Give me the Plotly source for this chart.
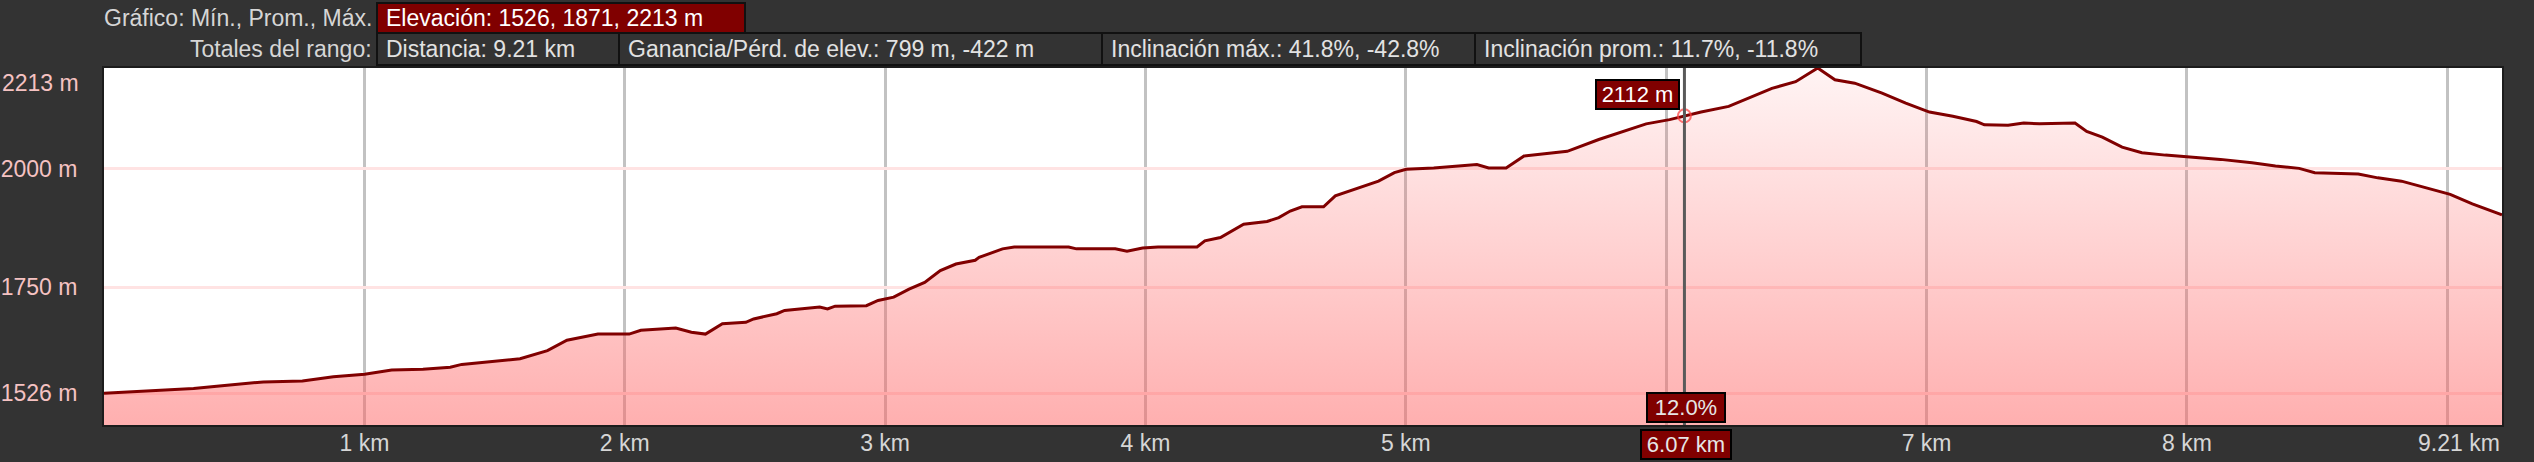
import plotly.graph_objects as go

# ---------------- data ----------------
km = [0.000, 0.105, 0.224, 0.344, 0.433, 0.538, 0.612, 0.762, 0.881, 1.001,
      1.105, 1.225, 1.330, 1.374, 1.509, 1.598, 1.703, 1.778, 1.897, 2.017,
      2.062, 2.196, 2.256, 2.310, 2.375, 2.465, 2.495, 2.584, 2.614, 2.674,
      2.749, 2.779, 2.808, 2.928, 2.973, 3.033, 3.092, 3.152, 3.212, 3.272,
      3.346, 3.361, 3.451, 3.496, 3.705, 3.735, 3.884, 3.929, 3.989, 4.048,
      4.198, 4.228, 4.288, 4.377, 4.467, 4.512, 4.556, 4.601, 4.684, 4.729,
      4.805, 4.895, 4.956, 5.001, 5.107, 5.197, 5.273, 5.318, 5.385, 5.454,
      5.530, 5.620, 5.741, 5.832, 5.923, 6.013, 6.070, 6.134, 6.240, 6.346,
      6.406, 6.497, 6.551, 6.582, 6.648, 6.724, 6.829, 6.920, 7.011, 7.101,
      7.192, 7.222, 7.313, 7.373, 7.434, 7.570, 7.615, 7.675, 7.751, 7.827,
      7.917, 8.008, 8.129, 8.250, 8.340, 8.431, 8.491, 8.658, 8.733, 8.824,
      8.914, 9.011, 9.096, 9.210]
elev = [1526, 1529, 1533, 1536, 1541, 1546, 1550, 1552, 1561, 1566,
        1575, 1577, 1581, 1587, 1594, 1599, 1616, 1638, 1651, 1651,
        1659, 1664, 1655, 1651, 1673, 1676, 1683, 1694, 1701, 1704,
        1708, 1704, 1710, 1711, 1722, 1729, 1746, 1760, 1785, 1799,
        1807, 1813, 1831, 1835, 1835, 1831, 1831, 1826, 1833, 1835,
        1835, 1848, 1855, 1883, 1889, 1897, 1911, 1920, 1920, 1943,
        1957, 1974, 1992, 1999, 2002, 2006, 2009, 2002, 2002, 2027,
        2032, 2037, 2062, 2079, 2095, 2104, 2112, 2120, 2132, 2156,
        2170, 2184, 2202, 2213, 2188, 2181, 2160, 2139, 2120, 2111,
        2100, 2093, 2092, 2097, 2095, 2097, 2079, 2067, 2046, 2034,
        2029, 2025, 2020, 2013, 2006, 2001, 1992, 1989, 1981, 1974,
        1960, 1946, 1926, 1903]

x_tick_vals = [1, 2, 3, 4, 5, 6, 7, 8, 9]
x_tick_text = ["1 km", "2 km", "3 km", "4 km", "5 km", "", "7 km", "8 km", ""]
y_tick_vals = [1526, 1750, 2000]
y_tick_text = ["1526 m", "1750 m", "2000 m"]

elev_min, elev_avg, elev_max = 1526, 1871, 2213
total_km = 9.21
gain, loss = 799, -422
grade_max = (41.8, -42.8)
grade_avg = (11.7, -11.8)
cursor_km = 6.07
cursor_elev = 2112
cursor_grade = 12.0

y_range = [1459, 2213]

# ---------------- layout helpers ----------------
W, H = 2534, 462
L, R, T, B = 104, 32, 68, 37
PW, PH = W - L - R, H - T - B
FONT = "Liberation Sans, Arial, sans-serif"
FS = 23
BG = "#333333"


def px(x):
    return (x - L) / PW


def py(y):
    return (H - B - y) / PH


fig = go.Figure()

fig.add_trace(go.Scatter(
    x=km, y=elev, mode="lines",
    line=dict(color="#800000", width=3),
    fill="tozeroy",
    fillgradient=dict(type="vertical",
                      colorscale=[[0, "rgba(255,96,96,0.50)"], [1, "rgba(255,96,96,0.07)"]],
                      start=y_range[0], stop=y_range[1]),
    hoverinfo="skip", showlegend=False,
))

fig.add_trace(go.Scatter(
    x=[cursor_km], y=[cursor_elev], mode="markers",
    marker=dict(symbol="circle-open", size=13, color="rgba(255,70,70,0.75)",
                line=dict(width=2, color="rgba(255,70,70,0.75)")),
    hoverinfo="skip", showlegend=False,
))

shapes = []
# cursor line
shapes.append(dict(type="line", xref="x", yref="paper", x0=cursor_km, x1=cursor_km,
                   y0=0, y1=1, line=dict(color="#5a5a5a", width=3), layer="above"))

# header boxes
shapes.append(dict(type="rect", xref="paper", yref="paper",
                   x0=px(377), x1=px(745), y0=py(33), y1=py(3),
                   fillcolor="#800000", line=dict(color="#111111", width=2)))
row2_edges = [377, 619, 1102, 1475, 1861]
for a, b in zip(row2_edges[:-1], row2_edges[1:]):
    shapes.append(dict(type="rect", xref="paper", yref="paper",
                       x0=px(a), x1=px(b), y0=py(65), y1=py(33),
                       fillcolor=BG, line=dict(color="#111111", width=2)))

annotations = []


def txt(text, x, y, anchor="left", color="#e2e2e2", size=FS):
    annotations.append(dict(text=text, xref="paper", yref="paper", x=px(x), y=py(y),
                            xanchor=anchor, yanchor="middle", showarrow=False,
                            font=dict(family=FONT, size=size, color=color)))


txt("Gráfico: Mín., Prom., Máx.", 374, 18, "right", "#d6d6d6")
txt(f"Elevación: {elev_min}, {elev_avg}, {elev_max} m", 384, 18, "left", "#ffffff")
txt("Totales del rango:", 374, 49, "right", "#d6d6d6")
row2_texts = [
    f"Distancia: {total_km} km",
    f"Ganancia/Pérd. de elev.: {gain} m, {loss} m",
    f"Inclinación máx.: {grade_max[0]}%, {grade_max[1]}%",
    f"Inclinación prom.: {grade_avg[0]}%, {grade_avg[1]}%",
]
for t, a in zip(row2_texts, row2_edges[:-1]):
    txt(t, a + 7, 49, "left", "#e2e2e2")

# top y label and end x label
annotations.append(dict(text=f"{elev_max} m", xref="paper", yref="y", x=0, y=elev_max,
                        xanchor="right", yanchor="middle", xshift=-23, yshift=-15,
                        showarrow=False, font=dict(family=FONT, size=FS, color="#f5c2c2")))
annotations.append(dict(text=f"{total_km} km", xref="x", yref="paper", x=total_km, y=0,
                        xanchor="right", yanchor="middle", yshift=-18,
                        showarrow=False, font=dict(family=FONT, size=FS, color="#d6d6d6")))

# cursor labels
box = dict(bgcolor="#800000", bordercolor="#000000", borderwidth=2, borderpad=2,
           showarrow=False)
annotations.append(dict(text=f"{cursor_elev} m", xref="x", yref="y", x=cursor_km, y=cursor_elev,
                        xanchor="right", yanchor="bottom", xshift=-4, yshift=6,
                        width=77, height=23, font=dict(family=FONT, size=22, color="#ffffff"), **box))
annotations.append(dict(text=f"{cursor_grade:.1f}%", xref="x", yref="paper", x=cursor_km, y=0,
                        xanchor="center", yanchor="bottom", yshift=2, xshift=2,
                        width=72, height=23, font=dict(family=FONT, size=22, color="#e6e6e6"), **box))
annotations.append(dict(text=f"{cursor_km} km", xref="x", yref="paper", x=cursor_km, y=0,
                        xanchor="center", yanchor="top", yshift=-4, xshift=2,
                        width=84, height=23, font=dict(family=FONT, size=22, color="#e6e6e6"), **box))

fig.update_layout(
    width=W, height=H,
    margin=dict(l=L, r=R, t=T, b=B, pad=0, autoexpand=False),
    paper_bgcolor=BG, plot_bgcolor="#ffffff",
    showlegend=False, hovermode=False,
    shapes=shapes, annotations=annotations,
    font=dict(family=FONT, size=FS),
)
fig.update_xaxes(
    range=[0, total_km], tickvals=x_tick_vals, ticktext=x_tick_text,
    showgrid=True, gridcolor="#c2c2c2", gridwidth=3, zeroline=False,
    ticks="", ticklabelstandoff=-4, automargin=False,
    tickfont=dict(family=FONT, size=FS, color="#d6d6d6"),
    showline=True, linecolor="#1c1c1c", linewidth=2, mirror=True,
)
fig.update_yaxes(
    range=y_range, tickvals=y_tick_vals, ticktext=y_tick_text,
    showgrid=True, gridcolor="#ffe3e3", gridwidth=3, zeroline=False,
    ticks="outside", ticklen=20, tickcolor="rgba(0,0,0,0)", automargin=False,
    tickfont=dict(family=FONT, size=FS, color="#f5c2c2"),
    showline=True, linecolor="#1c1c1c", linewidth=2, mirror=True,
)

fig.write_html(
    "out.html",
    config={"displayModeBar": False, "staticPlot": True},
    post_script="document.body.style.margin='0px';document.body.style.overflow='hidden';"
                "document.body.style.background='#333333';",
)
